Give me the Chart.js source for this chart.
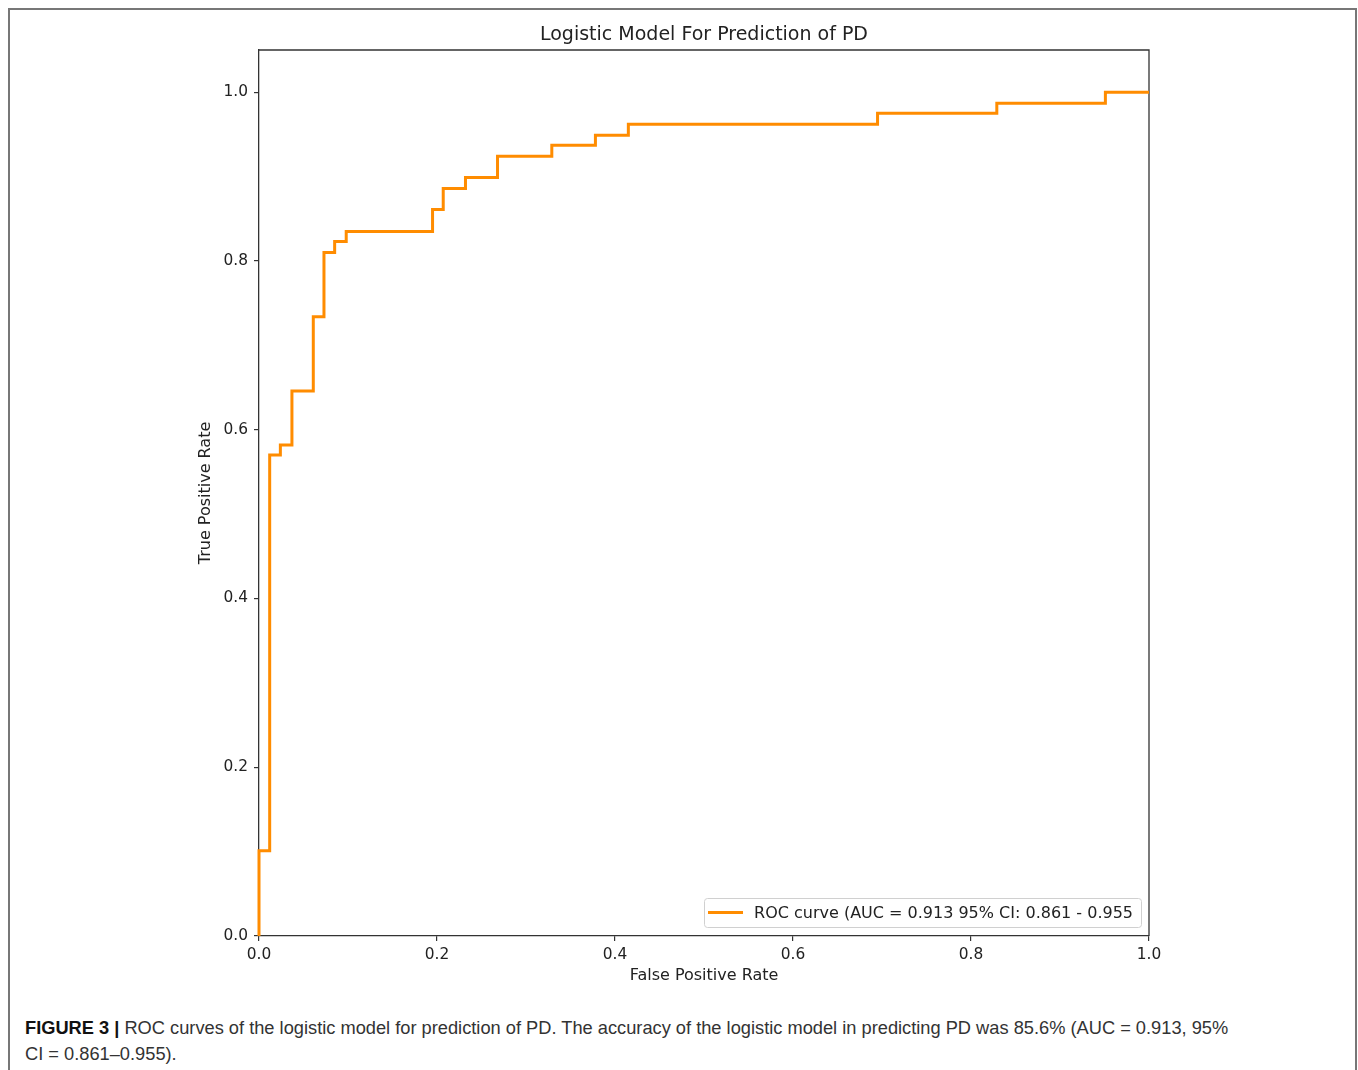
<!DOCTYPE html>
<html>
<head>
<meta charset="utf-8">
<script src="https://cdn.jsdelivr.net/npm/chart.js@4.4.1/dist/chart.umd.min.js"></script>
<style>
  html, body { margin:0; padding:0; background:#fff; width:1358px; height:1070px; overflow:hidden; }
  #frame { position:absolute; left:8px; top:8px; width:1349px; height:1100px; border:2px solid #777; box-sizing:border-box; }
  #wrap { position:absolute; left:0; top:0; width:1358px; height:1000px; }
  #caption { position:absolute; left:25px; top:1015px; width:1320px; font-family:"Liberation Sans", Arial, sans-serif; font-size:18.25px; line-height:26px; color:#333; white-space:nowrap; }
  #caption b { color:#111; }
</style>
</head>
<body>
<div id="frame"></div>
<div id="wrap"><canvas id="c" width="1358" height="1000"></canvas></div>
<div id="caption"><b>FIGURE 3 |</b> ROC curves of the logistic model for prediction of PD. The accuracy of the logistic model in predicting PD was 85.6% (AUC = 0.913, 95%<br>CI = 0.861–0.955).</div>
<script>
// ---- data ----
const fpr = [0, 0, 0.012, 0.024, 0.037, 0.061, 0.073, 0.085, 0.098, 0.195, 0.207, 0.232, 0.268, 0.329, 0.378, 0.415, 0.695, 0.829, 0.951, 1.0];
const tpr = [0, 0.101, 0.570, 0.582, 0.646, 0.734, 0.810, 0.823, 0.835, 0.861, 0.886, 0.899, 0.924, 0.937, 0.949, 0.962, 0.975, 0.987, 1.0, 1.0];
const xTicks = [0.0, 0.2, 0.4, 0.6, 0.8, 1.0];
const yTicks = [0.0, 0.2, 0.4, 0.6, 0.8, 1.0];
const seriesLabel = "ROC curve (AUC = 0.913 95% CI: 0.861 - 0.955";
const chartTitle = "Logistic Model For Prediction of PD";
const xTitle = "False Positive Rate";
const yTitle = "True Positive Rate";

const FONT = "'DejaVu Sans', Verdana, sans-serif";
const AXIS = "#333";
const ORANGE = "#ff8c00";

const points = fpr.map((x, i) => ({ x: x, y: tpr[i] }));

const framePlugin = {
  id: 'frame',
  beforeDatasetsDraw(chart) {
    const a = chart.chartArea, ctx = chart.ctx;
    ctx.save();
    ctx.strokeStyle = AXIS;
    ctx.lineWidth = 1.3;
    ctx.beginPath();
    ctx.moveTo(a.left, a.top); ctx.lineTo(a.right, a.top); ctx.lineTo(a.right, a.bottom);
    ctx.stroke();
    ctx.restore();
  }
};

const legendPlugin = {
  id: 'innerLegend',
  afterDatasetsDraw(chart) {
    const a = chart.chartArea, ctx = chart.ctx;
    const ds = chart.data.datasets[0];
    ctx.save();
    ctx.font = "16px " + FONT;
    const tw = ctx.measureText(ds.label).width;
    const right = a.right - 8, bottom = a.bottom - 9, h = 29;
    const w = 50 + tw + 8;
    const left = right - w, top = bottom - h;
    ctx.fillStyle = "rgba(255,255,255,0.8)";
    ctx.strokeStyle = "#d0d0d0";
    ctx.lineWidth = 1;
    ctx.beginPath();
    ctx.roundRect(left + 0.5, top + 0.5, w, h, 3);
    ctx.fill(); ctx.stroke();
    const cy = top + h / 2;
    ctx.strokeStyle = ds.borderColor;
    ctx.lineWidth = 3;
    ctx.beginPath();
    ctx.moveTo(left + 4, cy); ctx.lineTo(left + 39, cy);
    ctx.stroke();
    ctx.fillStyle = "#222";
    ctx.textBaseline = "middle";
    ctx.fillText(ds.label, left + 50, cy + 1);
    ctx.restore();
  }
};

new Chart(document.getElementById('c'), {
  type: 'line',
  data: {
    datasets: [{
      label: seriesLabel,
      data: points,
      stepped: 'before',
      borderColor: ORANGE,
      borderWidth: 3,
      pointRadius: 0,
      fill: false,
      clip: 4
    }]
  },
  options: {
    responsive: false,
    animation: false,
    devicePixelRatio: 1,
    layout: { padding: { left: 193, right: 143, top: 0, bottom: 11 } },
    plugins: {
      legend: { display: false },
      tooltip: { enabled: false },
      title: {
        display: true,
        text: chartTitle,
        color: '#222',
        font: { family: FONT, size: 19, weight: 'normal' },
        padding: { top: 23.6, bottom: 3.6 }
      }
    },
    scales: {
      x: {
        type: 'linear', min: 0, max: 1,
        afterBuildTicks(s) { s.ticks = xTicks.map(v => ({ value: v })); },
        afterFit(s) { s.height = 53; },
        ticks: { color: '#222', font: { family: FONT, size: 15.4 }, padding: 5, callback: v => Number(v).toFixed(1), maxRotation: 0, autoSkip: false },
        grid: { display: true, drawOnChartArea: false, drawTicks: true, tickLength: 5, color: AXIS, lineWidth: 1.2 },
        border: { display: true, color: AXIS, width: 1.3 },
        title: { display: true, text: xTitle, color: '#222', font: { family: FONT, size: 16 }, padding: { top: 4, bottom: 4 } }
      },
      y: {
        type: 'linear', min: 0, max: 1.05, position: 'left',
        afterBuildTicks(s) { s.ticks = yTicks.map(v => ({ value: v })); },
        afterFit(s) { s.width = 66; },
        ticks: { color: '#222', font: { family: FONT, size: 15.4 }, padding: 6, callback: v => Number(v).toFixed(1), autoSkip: false },
        grid: { display: true, drawOnChartArea: false, drawTicks: true, tickLength: 5, color: AXIS, lineWidth: 1.2 },
        border: { display: true, color: AXIS, width: 1.3 },
        title: { display: true, text: yTitle, color: '#222', font: { family: FONT, size: 16 }, padding: { top: 3, bottom: 4 } }
      },
      y2: {
        type: 'linear', min: 0, max: 1, position: 'right',
        afterFit(s) { s.width = 66; },
        ticks: { display: false },
        grid: { display: false },
        border: { display: false }
      }
    }
  },
  plugins: [framePlugin, legendPlugin]
});
</script>
</body>
</html>
